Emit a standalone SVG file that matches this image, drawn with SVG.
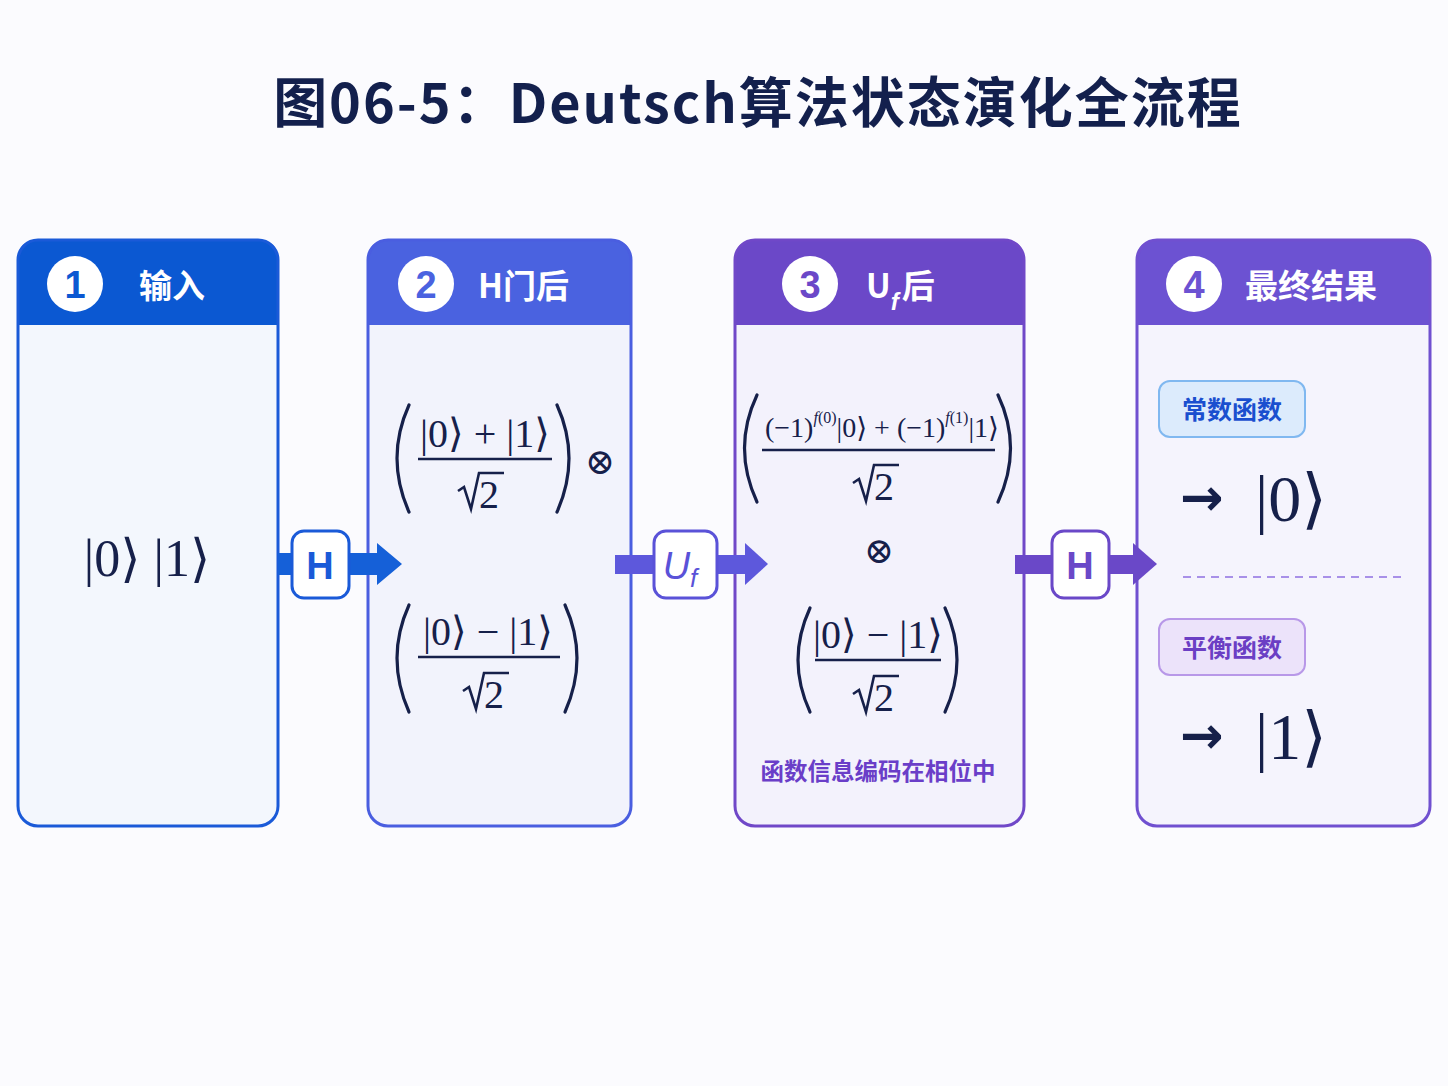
<svg xmlns="http://www.w3.org/2000/svg" xmlns:xlink="http://www.w3.org/1999/xlink" width="1448" height="1086" viewBox="0 0 1448 1086">
<defs>
<style>
.title{font-family:"Noto Sans CJK SC","Noto Sans",sans-serif;font-weight:700;font-size:54px;letter-spacing:2px;fill:#13204d}
.hd{font-family:"Noto Sans CJK SC","Noto Sans",sans-serif;font-weight:700;font-size:33px;fill:#ffffff}
.num{font-family:"Liberation Sans","Noto Sans",sans-serif;font-weight:700;font-size:38px;text-anchor:middle}
.m{font-family:"Liberation Serif","DejaVu Serif",serif;fill:#16204a}
.par{fill:none;stroke:#16204a;stroke-width:3.2;stroke-linecap:round}
.bar{stroke:#16204a;stroke-width:2.5}
.rad{fill:none;stroke:#16204a;stroke-width:2.6;stroke-linejoin:miter}
.gate{fill:#ffffff;stroke-width:3}
.gt{font-family:"Liberation Sans","Noto Sans",sans-serif;font-weight:700;font-size:38px;text-anchor:middle}
.badge{font-family:"Noto Sans CJK SC",sans-serif;font-weight:700;font-size:25px;text-anchor:middle}
.arr{font-family:"DejaVu Sans",sans-serif;font-weight:700;font-size:52px;fill:#16204a}
</style>
<path id="rad" class="rad" d="M0,18 L6,14 L13,36 L21,0 H46"/>
</defs>
<rect width="1448" height="1086" fill="#fbfbfe"/>
<text class="title" x="758" y="123" text-anchor="middle">图06-5：Deutsch算法状态演化全流程</text>

<g id="panel1">
<rect x="18" y="240" width="260" height="586" rx="20" fill="#f3f7fd"/>
<path d="M18,325 V260 Q18,240 38,240 H258 Q278,240 278,260 V325 Z" fill="#0b58d2"/>
<rect x="18" y="240" width="260" height="586" rx="20" fill="none" stroke="#1a5ad8" stroke-width="3"/>
<circle cx="75" cy="284" r="28" fill="#ffffff"/>
<text class="num" x="75" y="298" fill="#0b58d2">1</text>
<text class="hd" x="139" y="298">输入</text>
<text class="m" x="147" y="576" font-size="52" text-anchor="middle">|0⟩ |1⟩</text>
</g>

<g id="panel2">
<rect x="368" y="240" width="263" height="586" rx="20" fill="#f2f3fc"/>
<path d="M368,325 V260 Q368,240 388,240 H611 Q631,240 631,260 V325 Z" fill="#4a62e0"/>
<rect x="368" y="240" width="263" height="586" rx="20" fill="none" stroke="#4a5ee0" stroke-width="3"/>
<circle cx="426" cy="284" r="28" fill="#ffffff"/>
<text class="num" x="426" y="298" fill="#4a62e0">2</text>
<text class="hd" x="478" y="298">H门后</text>
<path class="par" d="M409,405 Q385,458 409,512"/>
<text class="m" x="485" y="447" font-size="40" text-anchor="middle">|0⟩ + |1⟩</text>
<line class="bar" x1="418" y1="459" x2="552" y2="459"/>
<use xlink:href="#rad" x="458" y="473"/>
<text class="m" x="479" y="508" font-size="40">2</text>
<path class="par" d="M557,405 Q581,458 557,512"/>
<text class="m" x="600" y="474" font-size="36" text-anchor="middle" font-family="DejaVu Sans">⊗</text>
<path class="par" d="M409,605 Q385,658 409,712"/>
<text class="m" x="488" y="645" font-size="40" text-anchor="middle">|0⟩ − |1⟩</text>
<line class="bar" x1="418" y1="657" x2="560" y2="657"/>
<use xlink:href="#rad" x="463" y="673"/>
<text class="m" x="484" y="708" font-size="40">2</text>
<path class="par" d="M565,605 Q589,658 565,712"/>
</g>

<g id="panel3">
<rect x="735" y="240" width="289" height="586" rx="20" fill="#f3f2fc"/>
<path d="M735,325 V260 Q735,240 755,240 H1004 Q1024,240 1024,260 V325 Z" fill="#6b48c8"/>
<rect x="735" y="240" width="289" height="586" rx="20" fill="none" stroke="#7048c8" stroke-width="3"/>
<circle cx="810" cy="284" r="28" fill="#ffffff"/>
<text class="num" x="810" y="298" fill="#6b48c8">3</text>
<text class="hd" x="866" y="298">U<tspan font-family="Liberation Sans" font-style="italic" font-size="24" dy="12">f</tspan><tspan dy="-12" dx="3">后</tspan></text>
<path class="par" d="M757,395 Q732,448 757,502"/>
<text class="m" x="765" y="437" font-size="28">(−1)<tspan font-size="16" font-style="italic" dy="-14">f</tspan><tspan font-size="16" dy="0">(0)</tspan><tspan dy="14">|0⟩ + (−1)</tspan><tspan font-size="16" font-style="italic" dy="-14">f</tspan><tspan font-size="16">(1)</tspan><tspan dy="14">|1⟩</tspan></text>
<line class="bar" x1="762" y1="450" x2="995" y2="450"/>
<use xlink:href="#rad" x="853" y="465"/>
<text class="m" x="874" y="500" font-size="40">2</text>
<path class="par" d="M998,395 Q1023,448 998,502"/>
<text class="m" x="879" y="563" font-size="36" text-anchor="middle" font-family="DejaVu Sans">⊗</text>
<path class="par" d="M810,608 Q786,660 810,712"/>
<text class="m" x="878" y="648" font-size="40" text-anchor="middle">|0⟩ − |1⟩</text>
<line class="bar" x1="815" y1="660" x2="941" y2="660"/>
<use xlink:href="#rad" x="853" y="676"/>
<text class="m" x="874" y="711" font-size="40">2</text>
<path class="par" d="M945,608 Q969,660 945,712"/>
<text x="878" y="780" text-anchor="middle" font-family="Noto Sans CJK SC,sans-serif" font-weight="700" font-size="23.5" fill="#6a3ec8">函数信息编码在相位中</text>
</g>

<g id="panel4">
<rect x="1137" y="240" width="293" height="586" rx="20" fill="#f5f4fd"/>
<path d="M1137,325 V260 Q1137,240 1157,240 H1410 Q1430,240 1430,260 V325 Z" fill="#6c52d2"/>
<rect x="1137" y="240" width="293" height="586" rx="20" fill="none" stroke="#7050d0" stroke-width="3"/>
<circle cx="1194" cy="284" r="28" fill="#ffffff"/>
<text class="num" x="1194" y="298" fill="#6c52d2">4</text>
<text class="hd" x="1245" y="298">最终结果</text>
<rect x="1159" y="381" width="146" height="56" rx="11" fill="#dcebfc" stroke="#80b8f0" stroke-width="2"/>
<text class="badge" x="1232" y="419" fill="#1a4fcf">常数函数</text>
<text class="arr" x="1180" y="515">→</text>
<text class="m" x="1255" y="521" font-size="66">|0⟩</text>
<line x1="1183" y1="577" x2="1405" y2="577" stroke="#a890e8" stroke-width="2" stroke-dasharray="8 6"/>
<rect x="1159" y="619" width="146" height="56" rx="11" fill="#ece3fa" stroke="#b898e8" stroke-width="2"/>
<text class="badge" x="1232" y="657" fill="#6b3fc4">平衡函数</text>
<text class="arr" x="1180" y="753">→</text>
<text class="m" x="1255" y="759" font-size="66">|1⟩</text>
</g>

<g id="connectors">
<g id="gate-h1">
<rect x="278" y="553" width="102" height="22" fill="#1560d8"/>
<polygon points="377,543 402,564 377,585" fill="#1560d8"/>
<rect class="gate" x="292" y="531" width="57" height="67" rx="12" stroke="#1a5ad8"/>
<text class="gt" x="320" y="579" fill="#1a5ad8">H</text>
</g>
<g id="gate-uf">
<rect x="615" y="555" width="133" height="19" fill="#5d58dc"/>
<polygon points="745,543 768,564 745,585" fill="#5d58dc"/>
<rect class="gate" x="654" y="531" width="63" height="67" rx="12" stroke="#5a52d8"/>
<text x="680" y="579" text-anchor="middle" font-family="Liberation Sans,sans-serif" font-style="italic" font-size="38" fill="#5a52d8">U<tspan font-size="26" dy="8">f</tspan></text>
</g>
<g id="gate-h2">
<rect x="1015" y="555" width="122" height="19" fill="#6a48c8"/>
<polygon points="1133,543 1157,564 1133,585" fill="#6a48c8"/>
<rect class="gate" x="1052" y="531" width="57" height="67" rx="12" stroke="#6a48c8"/>
<text class="gt" x="1080" y="579" fill="#6a48c8">H</text>
</g>
</g>
</svg>
